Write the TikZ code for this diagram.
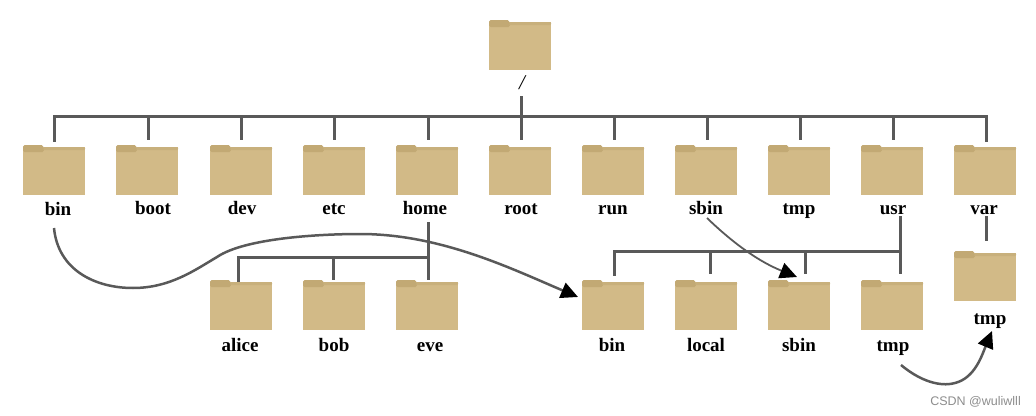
\documentclass[tikz,border=0pt]{standalone}
\usepackage{fontspec}
\setmainfont{Liberation Serif}
\setsansfont{Liberation Sans}
\usetikzlibrary{arrows.meta}
\definecolor{folderbody}{HTML}{D2BA87}
\definecolor{foldertab}{HTML}{C2A974}
\definecolor{linegrey}{HTML}{595959}
\tikzset{
  folderbox/.style={fill=folderbody,draw=none,minimum width=62pt,minimum height=48pt,inner sep=0pt,anchor=north west},
  foldertabshape/.style={fill=foldertab,draw=none},
  foldertop/.style={fill=foldertab!60!folderbody,draw=none},
  lbl/.style={font=\fontsize{19}{22}\selectfont\bfseries,inner sep=0pt,text=black,anchor=base},
  tree/.style={draw=linegrey,line width=3pt,line cap=butt},
  link/.style={draw=linegrey,line width=2.5pt,-{Triangle[length=17pt,width=16pt,color=black]}}
}
\newcommand{\folderat}[6]{%
  % name, x, y (top of the tab), label, label x, label baseline
  \node[folderbox] (#1) at (#2,#3+2) {};
  \fill[foldertop,rounded corners=1pt] (#2+20,#3+2) rectangle (#2+62,#3+5);
  \fill[foldertabshape,rounded corners=1.5pt] (#2,#3+7) -- (#2,#3) -- (#2+20,#3) -- (#2+21,#3+7) -- cycle;
  \node[lbl] (#1-l) at (#5,#6) {#4};
}
\begin{document}
\begin{tikzpicture}[x=1pt,y=-1pt]
\useasboundingbox (0,0) rectangle (1036,415);
\folderat{root}{489}{20}{}{521}{80}
\node[font=\fontsize{21}{24}\selectfont\itshape,inner sep=0pt,anchor=center] (slash) at (522,82.5) {/};

\coordinate (rootS) at (521,96);
\coordinate (barL) at (54,116);
\coordinate (barR) at (986,116);
\draw[tree] (rootS) -- (521,116);
\draw[tree,line cap=rect] (54,140) -- (barL) -- (barR) -- (986,140);

\foreach \n/\x/\t/\lx/\ly/\sx in {
  bin/23/bin/58/215/54,
  boot/116/boot/153/214/148,
  dev/210/dev/242/214/241,
  etc/303/etc/334/214/334,
  home/396/home/425/214/428,
  rootd/489/root/521/214/521,
  run/582/run/613/214/614,
  sbin/675/sbin/706/214/707,
  tmp/768/tmp/799/214/800,
  usr/861/usr/893/214/893,
  var/954/var/984/214/986}{
  \folderat{\n}{\x}{145}{\t}{\lx}{\ly}
  \ifnum\sx=54\relax\else\ifnum\sx=986\relax\else\draw[tree] (\sx,116) -- (\sx,140);\fi\fi
}

\foreach \n/\x/\t/\lx in {
  alice/210/alice/240,
  bob/303/bob/334,
  eve/396/eve/430,
  ubin/582/bin/612,
  ulocal/675/local/706,
  usbin/768/sbin/799,
  utmp/861/tmp/893}{
  \folderat{\n}{\x}{280}{\t}{\lx}{351}
}
\folderat{vtmp}{954}{251}{tmp}{990}{324}

% home subtree
\draw[tree] (428,222) -- (428,280);
\draw[tree,line cap=rect] (238,280) -- (238,257) -- (428,257);
\draw[tree] (333,257) -- (333,280);
% usr subtree
\draw[tree] (900,216) -- (900,274);
\draw[tree,line cap=rect] (614,274) -- (614,251) -- (900,251);
\draw[tree] (710,251) -- (710,274);
\draw[tree] (805,251) -- (805,274);
% var
\draw[tree] (986,216) -- (986,241);

% curved links
\coordinate (c1) at (54,228);
\coordinate (c2) at (578,297);
\draw[link] (c1) .. controls (58,270) and (95,288) .. (133,288)
  .. controls (170,288) and (195,270) .. (217,257)
  .. controls (245,238) and (320,234) .. (360,234)
  .. controls (440,234) and (510,268) .. (c2);
\coordinate (c3) at (707,218);
\coordinate (c4) at (797,277);
\draw[link,line width=1.8pt] (c3) .. controls (735,245) and (760,262) .. (c4);
\coordinate (c5) at (901,365);
\coordinate (c6) at (992,331);
\draw[link] (c5) .. controls (925,385) and (945,386) .. (955,383)
  .. controls (975,378) and (982,355) .. (c6);

\node[font=\sffamily\fontsize{12.5}{14}\selectfont,text=black!45,inner sep=0pt,anchor=base east] (mark) at (1021,405) {CSDN @wuliwlll};
\end{tikzpicture}
\end{document}
